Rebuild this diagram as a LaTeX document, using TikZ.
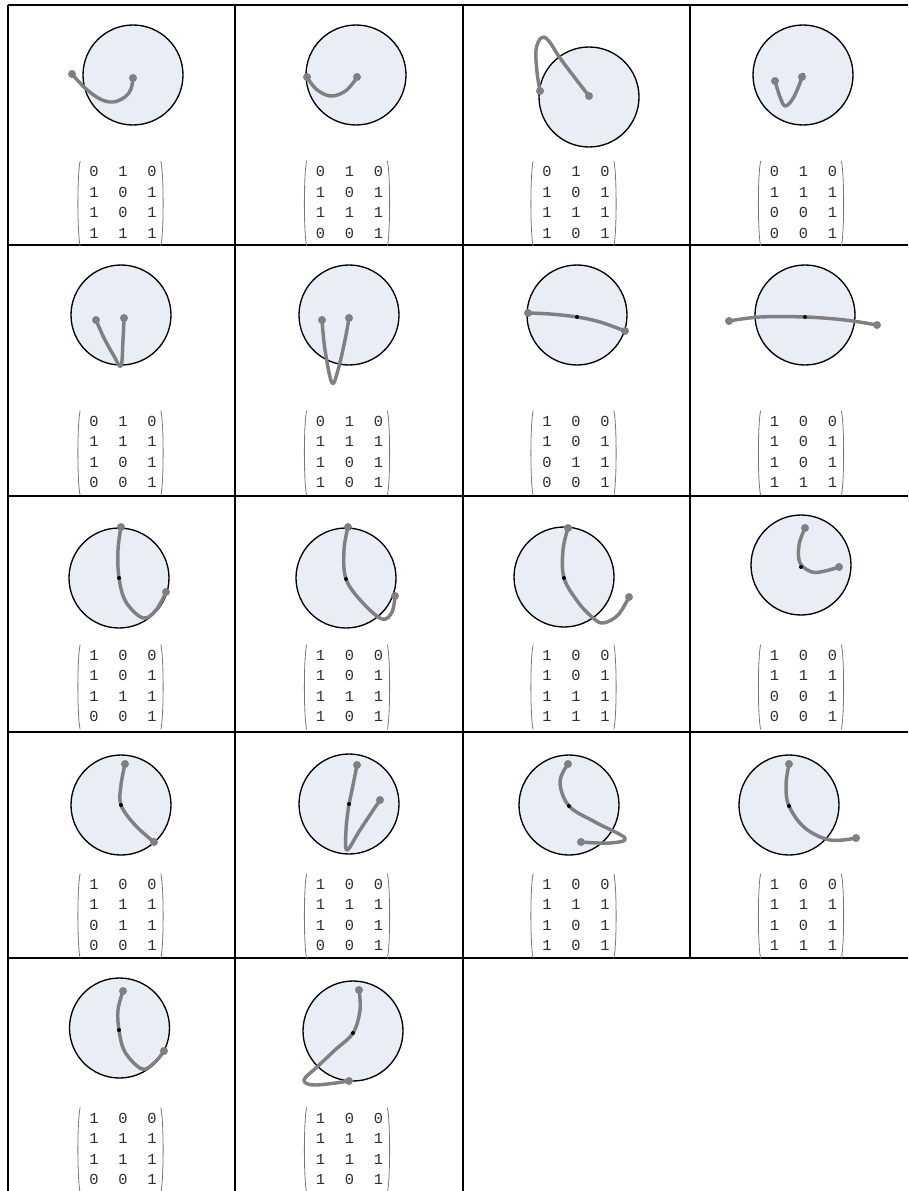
\documentclass[tikz,border=0pt]{standalone}
\usepackage{fontspec}
\usepackage{tikz}
\usepackage{xcolor}
\usetikzlibrary{calc}
\newfontfamily\matfont{Liberation Mono}
\definecolor{discfill}{RGB}{232,237,246}
\definecolor{wiregray}{RGB}{128,128,128}
\definecolor{digitgray}{RGB}{45,45,45}
\definecolor{parengray}{RGB}{120,120,120}

% 4x3 matrix with thin round brackets
\newcommand{\cellmatrix}[3]{%
  \node[digits] (#1) at (#2) {\begin{tabular}{@{}c@{\hspace{14.85pt}}c@{\hspace{14.85pt}}c@{}}#3\end{tabular}};
  \draw[paren] ($(#1.north west)+(-9,-1)$) .. controls ($(#1.north west)+(-12,12)$) and ($(#1.south west)+(-12,-12)$) .. ($(#1.south west)+(-9,1)$);
  \draw[paren] ($(#1.north east)+(4,-1)$) .. controls ($(#1.north east)+(7,12)$) and ($(#1.south east)+(7,-12)$) .. ($(#1.south east)+(4,1)$);
}

\begin{document}
\begin{tikzpicture}[x=0.75pt,y=-0.75pt]
  \tikzstyle{tableline}=[line width=1.5pt]
  \tikzstyle{disc}=[circle,draw=black,fill=discfill,line width=1pt,minimum size=75pt,inner sep=0pt]
  \tikzstyle{wire}=[wiregray,line width=2.6pt,line cap=round,line join=round]
  \tikzstyle{enddot}=[fill=wiregray]
  \tikzstyle{hub}=[fill=black]
  \tikzstyle{digits}=[inner sep=0pt,text=digitgray,font=\matfont\fontsize{11.5}{15.4}\selectfont]
  \tikzstyle{paren}=[parengray,line width=0.6pt]

  \useasboundingbox (0,0) rectangle (908,1191);

  % table rules
  \draw[tableline] (8,5) -- (908,5);
  \draw[tableline] (8,245) -- (908,245);
  \draw[tableline] (8,496) -- (908,496);
  \draw[tableline] (8,732) -- (908,732);
  \draw[tableline] (8,958) -- (908,958);
  \draw[tableline] (8,5) -- (8,1191);
  \draw[tableline] (235,5) -- (235,1191);
  \draw[tableline] (463,5) -- (463,1191);
  \draw[tableline] (690,5) -- (690,958);

  % row 1
  \node[disc] (d1) at (133,75) {};
  \draw[wire] plot[smooth,tension=0.6] coordinates {(72,74) (85,88) (100,99) (113,102) (125,97) (131,89) (133,78)};
  \fill[enddot] (72,74) circle (3pt) (133,78) circle (3pt);
  \cellmatrix{m1}{123,203.5}{0&1&0\\1&0&1\\1&0&1\\1&1&1}

  \node[disc] (d2) at (356,75) {};
  \draw[wire] plot[smooth,tension=0.6] coordinates {(307,77) (316,89) (330,96) (344,92) (353,83) (357,77)};
  \fill[enddot] (307,77) circle (3pt) (357,77) circle (3pt);
  \cellmatrix{m2}{349.5,203.5}{0&1&0\\1&0&1\\1&1&1\\0&0&1}

  \node[disc] (d3) at (589,97) {};
  \draw[wire] plot[smooth,tension=0.6] coordinates {(589,96) (575,78) (560,58) (548,40) (541,38) (536,50) (537,72) (540,91)};
  \fill[enddot] (589,96) circle (3pt) (540,91) circle (3pt);
  \cellmatrix{m3}{576,203.5}{0&1&0\\1&0&1\\1&1&1\\1&0&1}

  \node[disc] (d4) at (803,75) {};
  \draw[wire] plot[smooth,tension=0.6] coordinates {(775,81) (780,97) (785,106) (792,100) (798,88) (802,77)};
  \fill[hub] (803,75) circle (1.5pt);
  \fill[enddot] (775,81) circle (3pt) (802,77) circle (3pt);
  \cellmatrix{m4}{803.5,203.5}{0&1&0\\1&1&1\\0&0&1\\0&0&1}

  % row 2
  \node[disc] (d5) at (121,315) {};
  \draw[wire] plot[smooth,tension=0.6] coordinates {(96,320) (104,338) (114,356) (121,366) (123,340) (124,318)};
  \fill[enddot] (96,320) circle (3pt) (124,318) circle (3pt);
  \cellmatrix{m5}{123,453}{0&1&0\\1&1&1\\1&0&1\\0&0&1}

  \node[disc] (d6) at (349,315) {};
  \draw[wire] plot[smooth,tension=0.6] coordinates {(322,320) (325,350) (332,383) (338,370) (345,340) (349,318)};
  \fill[enddot] (322,320) circle (3pt) (349,318) circle (3pt);
  \cellmatrix{m6}{349.5,453}{0&1&0\\1&1&1\\1&0&1\\1&0&1}

  \node[disc] (d7) at (577,315) {};
  \draw[wire] plot[smooth,tension=0.6] coordinates {(528,313) (550,314) (577,317) (600,322) (625,331)};
  \fill[hub] (577,317) circle (1.5pt);
  \fill[enddot] (528,313) circle (3pt) (625,331) circle (3pt);
  \cellmatrix{m7}{576,453}{1&0&0\\1&0&1\\0&1&1\\0&0&1}

  \node[disc] (d8) at (805,315) {};
  \draw[wire] plot[smooth,tension=0.6] coordinates {(729,321) (760,317) (805,317) (845,320) (877,325)};
  \fill[hub] (805,317) circle (1.5pt);
  \fill[enddot] (729,321) circle (3pt) (877,325) circle (3pt);
  \cellmatrix{m8}{803.5,453}{1&0&0\\1&0&1\\1&0&1\\1&1&1}

  % row 3
  \node[disc] (d9) at (119,578) {};
  \draw[wire] plot[smooth,tension=0.6] coordinates {(121,527) (118,550) (119,578) (126,602) (143,618) (156,610) (166,592)};
  \fill[hub] (119,578) circle (1.5pt);
  \fill[enddot] (121,527) circle (3pt) (166,592) circle (3pt);
  \cellmatrix{m9}{123,687}{1&0&0\\1&0&1\\1&1&1\\0&0&1}

  \node[disc] (d10) at (346,578) {};
  \draw[wire] plot[smooth,tension=0.6] coordinates {(348,527) (344,550) (346,579) (362,602) (382,619) (392,612) (395,596)};
  \fill[hub] (346,579) circle (1.5pt);
  \fill[enddot] (348,527) circle (3pt) (395,596) circle (3pt);
  \cellmatrix{m10}{349.5,687}{1&0&0\\1&0&1\\1&1&1\\1&0&1}

  \node[disc] (d11) at (564,577) {};
  \draw[wire] plot[smooth,tension=0.6] coordinates {(568,528) (563,550) (564,578) (578,602) (592,617) (603,623) (618,615) (629,597)};
  \fill[hub] (564,578) circle (1.5pt);
  \fill[enddot] (568,528) circle (3pt) (629,597) circle (3pt);
  \cellmatrix{m11}{576,687}{1&0&0\\1&0&1\\1&1&1\\1&1&1}

  \node[disc] (d12) at (801,565) {};
  \draw[wire] plot[smooth,tension=0.6] coordinates {(805,528) (799,545) (800,563) (812,572) (825,571) (839,567)};
  \fill[hub] (801,567) circle (1.5pt);
  \fill[enddot] (805,528) circle (3pt) (839,567) circle (3pt);
  \cellmatrix{m12}{803.5,687}{1&0&0\\1&1&1\\0&0&1\\0&0&1}

  % row 4
  \node[disc] (d13) at (121,805) {};
  \draw[wire] plot[smooth,tension=0.6] coordinates {(125,764) (121,785) (121,805) (135,825) (154,842)};
  \fill[hub] (121,805) circle (1.5pt);
  \fill[enddot] (125,764) circle (3pt) (154,842) circle (3pt);
  \cellmatrix{m13}{123,916}{1&0&0\\1&1&1\\0&1&1\\0&0&1}

  \node[disc] (d14) at (349,804) {};
  \draw[wire] plot[smooth,tension=0.6] coordinates {(357,765) (352,790) (349,804) (346,830) (347,850) (360,830) (380,800)};
  \fill[hub] (349,804) circle (1.5pt);
  \fill[enddot] (357,765) circle (3pt) (380,800) circle (3pt);
  \cellmatrix{m14}{349.5,916}{1&0&0\\1&1&1\\1&0&1\\0&0&1}

  \node[disc] (d15) at (569,805) {};
  \draw[wire] plot[smooth,tension=0.6] coordinates {(568,764) (560,782) (569,806) (595,822) (625,838) (610,843) (581,842)};
  \fill[hub] (569,806) circle (1.5pt);
  \fill[enddot] (568,764) circle (3pt) (581,842) circle (3pt);
  \cellmatrix{m15}{576,916}{1&0&0\\1&1&1\\1&0&1\\1&0&1}

  \node[disc] (d16) at (789,805) {};
  \draw[wire] plot[smooth,tension=0.6] coordinates {(789,764) (786,785) (789,806) (805,828) (830,840) (856,838)};
  \fill[hub] (789,806) circle (1.5pt);
  \fill[enddot] (789,764) circle (3pt) (856,838) circle (3pt);
  \cellmatrix{m16}{803.5,916}{1&0&0\\1&1&1\\1&0&1\\1&1&1}

  % row 5
  \node[disc] (d17) at (119.5,1028) {};
  \draw[wire] plot[smooth,tension=0.6] coordinates {(123,991) (118,1010) (119,1030) (125,1052) (142,1069) (155,1062) (164,1051)};
  \fill[hub] (119,1030) circle (1.5pt);
  \fill[enddot] (123,991) circle (3pt) (164,1051) circle (3pt);
  \cellmatrix{m17}{123,1150}{1&0&0\\1&1&1\\1&1&1\\0&0&1}

  \node[disc] (d18) at (353,1031) {};
  \draw[wire] plot[smooth,tension=0.6] coordinates {(359,990) (360,1010) (353,1033) (335,1050) (317,1067) (304,1080) (315,1085) (349,1081)};
  \fill[hub] (353,1033) circle (1.5pt);
  \fill[enddot] (359,990) circle (3pt) (349,1081) circle (3pt);
  \cellmatrix{m18}{349.5,1150}{1&0&0\\1&1&1\\1&1&1\\1&0&1}
\end{tikzpicture}
\end{document}
